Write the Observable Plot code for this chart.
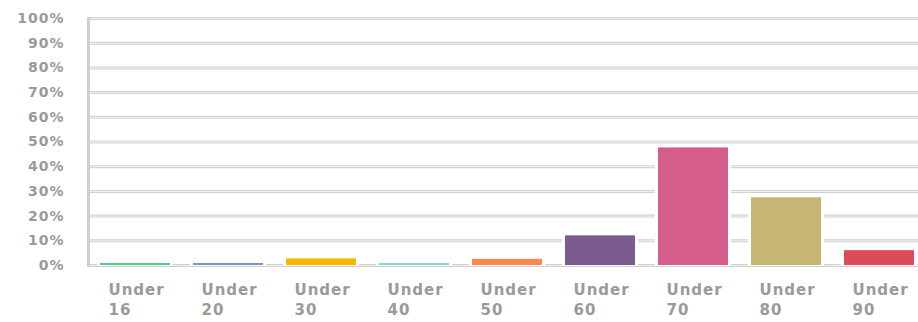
<!DOCTYPE html>
<html>
<head>
<meta charset="utf-8">
<script src="https://cdn.jsdelivr.net/npm/d3@7"></script>
<script src="https://cdn.jsdelivr.net/npm/@observablehq/plot@0.6"></script>
<style>
  html, body { margin: 0; padding: 0; background: #fff; }
  #chart svg { display: block; }
</style>
</head>
<body>
<div id="chart"></div>
<script>
const categories = ["Under\n16", "Under\n20", "Under\n30", "Under\n40", "Under\n50", "Under\n60", "Under\n70", "Under\n80", "Under\n90"];
const values = [0.8, 0.8, 2.7, 0.8, 2.5, 12, 47.6, 27.4, 6];
const colors = ["#4fcf8f", "#7a93cc", "#f6b800", "#8fd3da", "#fb8650", "#7b5b8f", "#d45d8b", "#c6b573", "#db4b5a"];
const yTicks = [0, 10, 20, 30, 40, 50, 60, 70, 80, 90, 100];

const data = categories.map((c, i) => ({category: c, value: values[i], color: colors[i]}));

const chart = Plot.plot({
  width: 918,
  height: 322,
  marginLeft: 88,
  marginRight: 0,
  marginTop: 18,
  marginBottom: 57,
  style: {fontFamily: "'DejaVu Sans', sans-serif", background: "#fff"},
  x: {domain: categories, range: [88, 926], paddingInner: 0.25, paddingOuter: 0.13, label: null},
  y: {domain: [0, 100], label: null},
  marks: [
    Plot.ruleY(yTicks, {stroke: "#d0d0d0", strokeWidth: 3}),
    Plot.ruleY(yTicks, {stroke: "#f3f3f3", strokeWidth: 1}),
    Plot.frame({anchor: "left", stroke: "#d0d0d0", strokeWidth: 3}),
    Plot.barY(data, {x: "category", y: "value", fill: "white", insetLeft: -3, insetRight: -3, insetTop: -3, insetBottom: -1}),
    Plot.barY(data, {x: "category", y: "value", fill: "color"}),
    Plot.axisY(yTicks, {
      tickSize: 0, tickPadding: 24, tickFormat: d => d + "%",
      fontSize: 14, fill: "#9a9a9a", fontWeight: "bold", label: null
    }),
    Plot.axisX({
      tickSize: 0, tickPadding: 16, textAnchor: "start", dx: -27, lineAnchor: "top",
      lineHeight: 1.3, fontSize: 15, fill: "#9a9a9a", fontWeight: "bold", label: null
    })
  ]
});

chart.querySelectorAll("text").forEach(t => t.setAttribute("letter-spacing", "1"));
document.getElementById("chart").appendChild(chart);
</script>
</body>
</html>
